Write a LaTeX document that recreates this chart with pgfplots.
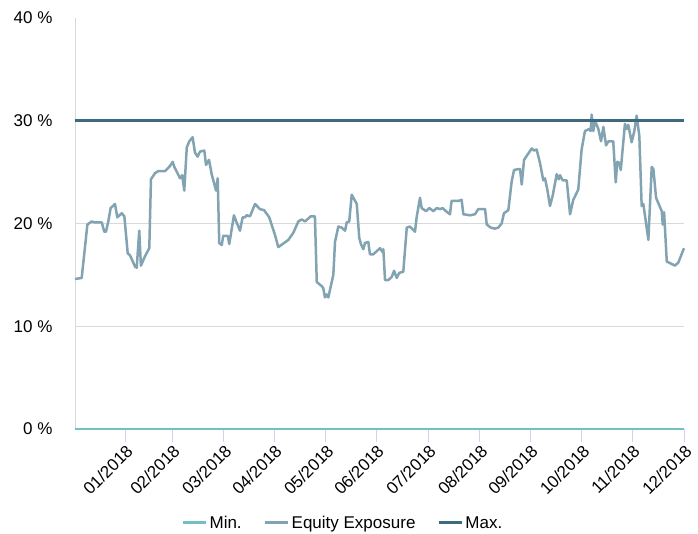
\documentclass[border=0pt]{standalone}
\usepackage{pgfplots}
\pgfplotsset{compat=1.18}
\usepackage{fontspec}
\setmainfont{Liberation Sans}
\definecolor{minc}{HTML}{72C0C4}
\definecolor{eqc}{HTML}{82A3B1}
\definecolor{maxc}{HTML}{3E6A80}
\definecolor{gridc}{HTML}{D9D9D9}
\definecolor{tickc}{HTML}{CCD6EA}
\begin{document}
\begin{tikzpicture}
\path[use as bounding box] (0,0) rectangle (698pt,533pt);
\begin{axis}[
  at={(75pt,104pt)}, anchor=south west,
  scale only axis, width=609pt, height=411pt,
  xmin=0, xmax=364, ymin=0, ymax=40,
  clip=false,
  axis x line*=bottom, axis y line*=left,
  x axis line style={draw=none},
  y axis line style={draw=gridc, line width=1pt, -},
  xtick={30,58,89,119,150,180,211,242,272,303,333,364},
  xticklabels={01/2018,02/2018,03/2018,04/2018,05/2018,06/2018,07/2018,08/2018,09/2018,10/2018,11/2018,12/2018},
  xticklabel style={rotate=45, anchor=north east, font=\fontsize{17}{20}\selectfont, inner sep=1pt},
  tick align=outside, major tick length=13pt,
  xtick style={draw=tickc, line width=1pt},
  ytick={10,20,30}, yticklabels={10 \%, 20 \%, 30 \%},
  extra y ticks={0,40}, extra y tick labels={0 \%, 40 \%},
  extra y tick style={grid=none},
  ymajorgrids, grid style={draw=gridc, line width=1pt},
  ytick style={draw=none},
  yticklabel style={font=\fontsize{17}{20}\selectfont, anchor=east, xshift=-6pt},
  legend columns=-1,
  legend style={draw=none, at={(0.44,-0.2287)}, anchor=center, font=\fontsize{17}{20}\selectfont,
    /tikz/every even column/.append style={column sep=20pt}},
  legend image code/.code={\draw[#1, line width=3pt] (0pt,0pt) -- (23pt,0pt);},
]
\addplot[minc, line width=2.5pt] coordinates {(0,0) (364,0)};
\addlegendentry{Min.}
\addplot[eqc, line width=2.5pt, line join=round] table {
x y
0 14.6
4.0 14.7
7.4 19.9
10.0 20.2
12.0 20.1
16.0 20.1
17.5 19.2
18.5 19.2
19.9 20.2
21.3 21.5
23.9 21.9
25.3 20.6
27.9 21.0
29.5 20.7
31.5 17.1
32.9 16.9
35.9 15.8
36.9 15.7
38.4 19.3
39.4 15.9
41.8 16.8
44.4 17.6
45.4 24.3
47.8 24.9
49.8 25.1
53.8 25.1
56.8 25.6
58.4 26.0
59.4 25.5
62.8 24.4
64.1 24.7
65.3 23.2
66.8 27.4
68.3 28.0
70.3 28.4
71.7 26.9
73.3 26.5
74.7 27.0
77.3 27.1
78.3 25.7
80.1 26.2
81.7 24.8
84.3 23.2
85.3 24.4
86.2 18.1
87.7 17.9
88.6 18.8
91.3 18.8
92.2 18.0
95.0 20.8
96.6 20.1
98.6 19.3
100.2 20.6
101.6 20.6
102.6 20.8
104.6 20.7
107.6 21.9
110.6 21.4
113.0 21.3
116.1 20.6
119.5 18.9
121.5 17.7
124.1 18.0
127.5 18.4
130.5 19.1
133.5 20.2
135.5 20.4
137.5 20.2
140.9 20.7
143.4 20.7
144.5 14.3
147.5 13.9
148.4 13.7
149.4 12.8
150.4 13.1
151.4 12.8
154.4 15.0
155.4 18.2
157.4 19.7
159.4 19.6
161.4 19.3
162.4 20.1
163.9 20.2
165.4 22.8
168.4 21.9
169.9 18.6
170.9 18.0
172.3 17.5
173.3 18.1
175.3 18.2
176.3 17.0
178.3 17.0
180.3 17.3
182.3 17.6
183.9 17.2
184.3 17.5
185.3 14.5
187.3 14.5
189.3 14.8
190.7 15.4
192.3 14.7
193.8 15.2
196.2 15.3
198.3 19.6
200.2 19.7
203.2 19.2
204.2 20.6
206.2 22.5
207.2 21.5
209.8 21.2
211.8 21.5
214.2 21.2
216.2 21.5
218.2 21.4
219.8 21.5
221.7 21.2
224.1 20.9
225.1 22.2
227.1 22.2
229.1 22.2
231.1 22.3
232.1 20.9
236.1 20.8
239.1 20.9
241.0 21.4
245.1 21.4
246.1 19.9
248.5 19.6
251.0 19.5
253.0 19.6
255.0 20.0
256.4 21.0
259.0 21.3
261.0 24.1
262.4 25.2
265.0 25.3
266.0 25.3
267.0 23.8
268.4 26.2
270.9 26.8
273.0 27.3
274.3 27.1
275.9 27.2
277.9 25.9
279.9 24.2
280.9 24.4
282.3 23.3
283.9 21.7
285.5 22.7
287.9 24.8
289.1 24.3
289.9 24.7
291.5 24.2
293.9 24.2
295.9 20.9
297.8 22.3
300.8 23.3
302.8 27.2
304.8 29.0
307.4 29.2
308.2 29.0
308.8 30.6
309.8 29.0
310.8 30.0
312.8 29.2
314.4 28.0
315.8 29.4
317.4 27.6
318.8 28.0
321.7 28.0
323.2 24.0
324.1 26.0
325.3 25.9
326.2 25.2
328.7 29.7
329.7 29.2
330.7 29.6
332.7 27.9
334.3 29.0
335.7 30.5
337.3 28.5
338.7 21.7
339.7 21.9
342.7 18.4
344.7 25.5
345.7 25.3
347.3 22.5
350.7 21.2
351.3 19.9
352.1 21.1
353.7 16.3
358.6 15.9
360.6 16.2
364 17.6
};
\addlegendentry{Equity Exposure}
\addplot[maxc, line width=3pt] coordinates {(0,30) (364,30)};
\addlegendentry{Max.}
\end{axis}
\end{tikzpicture}
\end{document}
